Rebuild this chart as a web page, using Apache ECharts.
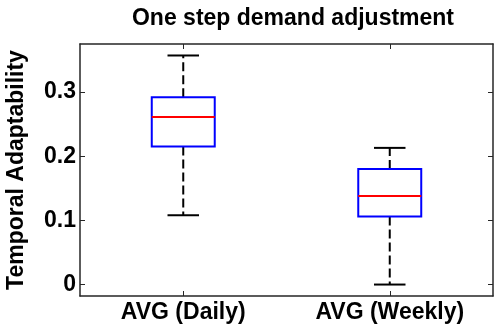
<!DOCTYPE html>
<html>
<head>
<meta charset="utf-8">
<script src="https://cdn.jsdelivr.net/npm/echarts@6/dist/echarts.min.js"></script>
<style>html,body{margin:0;padding:0;background:#fff}#c{width:496px;height:331px}</style>
</head>
<body>
<div id="c"></div>
<script>
var categories = ['AVG (Daily)', 'AVG (Weekly)'];
var lowerWhisker = [0.108, 0.0];
var q1 = [0.215, 0.106];
var median = [0.261, 0.138];
var q3 = [0.292, 0.180];
var upperWhisker = [0.357, 0.213];
var yTicks = [0, 0.1, 0.2, 0.3];
var yMin = -0.01785, yMax = 0.3749;

var data = categories.map(function (c, i) {
  return [i, lowerWhisker[i], q1[i], median[i], q3[i], upperWhisker[i]];
});

var FONT = '"Liberation Sans", Arial, Helvetica, sans-serif';
var AX = '#262626';

var chart = echarts.init(document.getElementById('c'), null, {renderer: 'canvas'});

function renderItem(params, api) {
  var x = api.value(0);
  var band = api.size([1, 0])[0];
  var boxW = band * 0.305;
  var capW = boxW * 0.5;
  var pLo = api.coord([x, api.value(1)]);
  var pQ1 = api.coord([x, api.value(2)]);
  var pMed = api.coord([x, api.value(3)]);
  var pQ3 = api.coord([x, api.value(4)]);
  var pHi = api.coord([x, api.value(5)]);
  var cx = pQ1[0];
  var whiskStyle = {stroke: '#000', lineWidth: 2, lineDash: [9, 4], fill: null};
  var solid = {stroke: '#000', lineWidth: 2};
  return {
    type: 'group',
    children: [
      {type: 'line', shape: {x1: cx, y1: pQ3[1], x2: cx, y2: pHi[1]}, style: whiskStyle},
      {type: 'line', shape: {x1: cx, y1: pQ1[1], x2: cx, y2: pLo[1]}, style: whiskStyle},
      {type: 'line', shape: {x1: cx - capW / 2, y1: pHi[1], x2: cx + capW / 2, y2: pHi[1]}, style: solid},
      {type: 'line', shape: {x1: cx - capW / 2, y1: pLo[1], x2: cx + capW / 2, y2: pLo[1]}, style: solid},
      {type: 'rect', shape: {x: cx - boxW / 2, y: pQ3[1], width: boxW, height: pQ1[1] - pQ3[1]},
        style: {stroke: '#0000ff', lineWidth: 2, fill: 'rgba(0,0,0,0)'}},
      {type: 'line', shape: {x1: cx - boxW / 2, y1: pMed[1], x2: cx + boxW / 2, y2: pMed[1]},
        style: {stroke: '#ff0000', lineWidth: 2}}
    ]
  };
}

var option = {
  animation: false,
  backgroundColor: '#fff',
  title: {
    text: 'One step demand adjustment',
    left: 288, top: 2, textAlign: 'center',
    textStyle: {fontFamily: FONT, fontSize: 23, fontWeight: 'bold', color: '#000'}
  },
  grid: {left: 80, right: 3, top: 44, bottom: 35, containLabel: false, outerBoundsMode: 'none'},
  xAxis: [{
    type: 'category', data: categories, position: 'bottom',
    axisLine: {show: true, onZero: false, lineStyle: {color: AX, width: 1.5}},
    axisTick: {show: true, inside: true, length: 5, alignWithLabel: true, lineStyle: {color: AX, width: 1}},
    axisLabel: {fontFamily: FONT, fontSize: 23, fontWeight: 'bold', color: '#000', margin: 5},
    splitLine: {show: false}
  }, {
    type: 'category', data: categories, position: 'top',
    axisLine: {show: true, onZero: false, lineStyle: {color: AX, width: 1.5}},
    axisTick: {show: true, inside: true, length: 5, alignWithLabel: true, lineStyle: {color: AX, width: 1}},
    axisLabel: {show: false},
    splitLine: {show: false}
  }],
  yAxis: [{
    type: 'value', min: yMin, max: yMax, position: 'left',
    name: 'Temporal Adaptability', nameLocation: 'middle', nameGap: 52, nameMoveOverlap: false,
    nameTextStyle: {fontFamily: FONT, fontSize: 23, fontWeight: 'bold', color: '#000'},
    axisLine: {show: true, onZero: false, lineStyle: {color: AX, width: 1.5}},
    axisTick: {show: true, inside: true, length: 5, customValues: yTicks, lineStyle: {color: AX, width: 1}},
    axisLabel: {customValues: yTicks, fontFamily: FONT, fontSize: 23, fontWeight: 'bold', color: '#000', margin: 4,
      formatter: function (v) { return String(Math.round(v * 10) / 10); }},
    splitLine: {show: false}
  }, {
    type: 'value', min: yMin, max: yMax, position: 'right',
    axisLine: {show: true, onZero: false, lineStyle: {color: AX, width: 1.5}},
    axisTick: {show: true, inside: true, length: 5, customValues: yTicks, lineStyle: {color: AX, width: 1}},
    axisLabel: {show: false},
    splitLine: {show: false}
  }],
  series: [{
    type: 'custom',
    renderItem: renderItem,
    xAxisIndex: 0, yAxisIndex: 0,
    encode: {x: 0, y: [1, 2, 3, 4, 5]},
    data: data,
    clip: false
  }]
};
chart.setOption(option);
</script>
</body>
</html>
